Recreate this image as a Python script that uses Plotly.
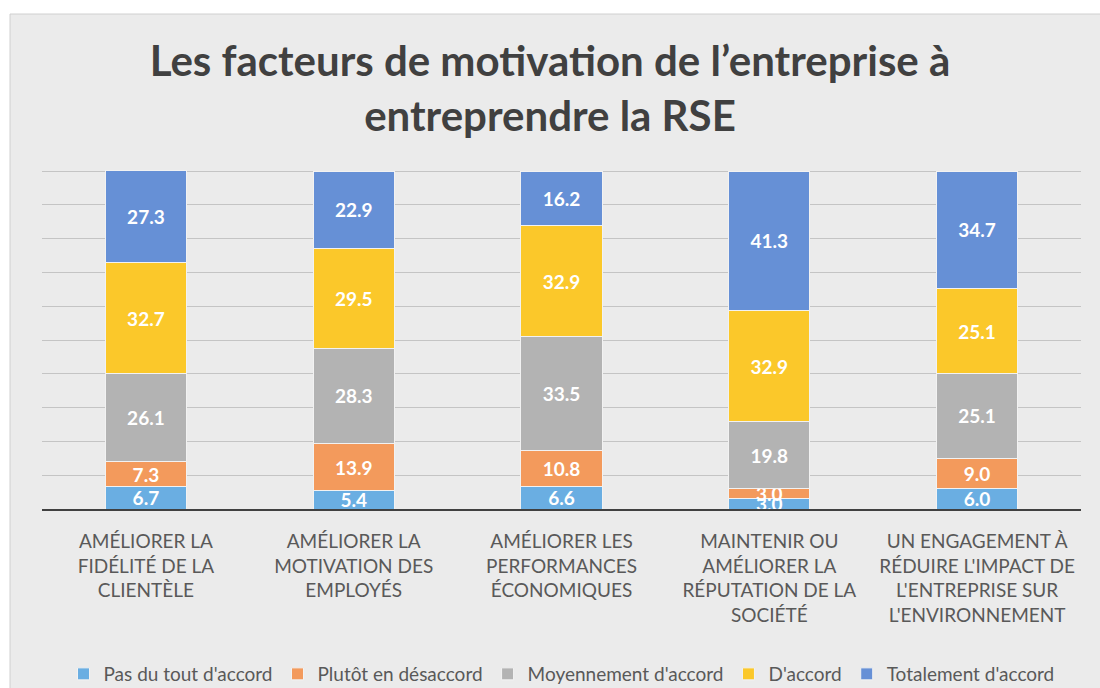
import plotly.graph_objects as go

categories = [
    "AMÉLIORER LA<br>FIDÉLITÉ DE LA<br>CLIENTÈLE",
    "AMÉLIORER LA<br>MOTIVATION DES<br>EMPLOYÉS",
    "AMÉLIORER LES<br>PERFORMANCES<br>ÉCONOMIQUES",
    "MAINTENIR OU<br>AMÉLIORER LA<br>RÉPUTATION DE LA<br>SOCIÉTÉ",
    "UN ENGAGEMENT À<br>RÉDUIRE L'IMPACT DE<br>L'ENTREPRISE SUR<br>L'ENVIRONNEMENT",
]
pas_du_tout = [6.7, 5.4, 6.6, 3.0, 6.0]
plutot_desaccord = [7.3, 13.9, 10.8, 3.0, 9.0]
moyennement = [26.1, 28.3, 33.5, 19.8, 25.1]
d_accord = [32.7, 29.5, 32.9, 32.9, 25.1]
totalement = [27.3, 22.9, 16.2, 41.3, 34.7]

series = [
    ("Pas du tout d'accord", pas_du_tout, "#6aaee2"),
    ("Plutôt en désaccord", plutot_desaccord, "#f39a5c"),
    ("Moyennement d'accord", moyennement, "#b3b3b3"),
    ("D'accord", d_accord, "#fbc82a"),
    ("Totalement d'accord", totalement, "#6690d6"),
]

W, H = 1100, 688
L, R, T, B = 42, 19, 170, 179
PW, PH = W - L - R, H - T - B

fig = go.Figure()
for name, vals, color in series:
    fig.add_trace(go.Bar(
        name=name, x=categories, y=vals,
        marker=dict(color=color, line=dict(color="#f2f2f2", width=1)),
        text=[f"{v:.1f}" for v in vals],
        textposition="inside", insidetextanchor="middle", textangle=0,
        textfont=dict(family="Lato", size=19, color="white", weight="bold"),
        width=0.39,
    ))

fig.update_layout(
    barmode="stack",
    width=W, height=H,
    paper_bgcolor="white",
    plot_bgcolor="rgba(0,0,0,0)",
    margin=dict(l=L, r=R, t=T, b=B, autoexpand=False),
    uniformtext=dict(mode="show", minsize=19),
    title=dict(
        text="<b>Les facteurs de motivation de l’entreprise à<br>entreprendre la RSE</b>",
        x=0.5, xanchor="center", y=1 - 76 / H, yanchor="top",
        font=dict(family="Lato", size=42, color="#404040"),
    ),
    legend=dict(
        orientation="h", x=0.5, xanchor="center", y=-(655 - (T + PH)) / PH, yanchor="top",
        font=dict(family="Lato", size=19, color="#595959"),
        itemwidth=30, traceorder="normal", bgcolor="rgba(0,0,0,0)",
    ),
    shapes=[dict(type="rect", xref="paper", yref="paper",
                 x0=(10 - L) / PW, x1=1 + (R + 5) / PW, y0=-(B + 5) / PH, y1=1 + (T - 14) / PH,
                 fillcolor="#ebebeb", line=dict(color="#d0d0d0", width=1), layer="below")],
)
fig.update_xaxes(
    showgrid=False, showline=True, linecolor="#404040", linewidth=2, automargin=False,
    tickfont=dict(family="Lato", size=19, color="#595959"), ticks="", ticklabelstandoff=14,
)
fig.update_yaxes(
    range=[0, 100.3], dtick=10, showticklabels=False, showgrid=True, automargin=False,
    gridcolor="#c4c4c4", gridwidth=1, zeroline=False,
)

fig.write_html("out.html", post_script="document.body.style.margin='0';",
               config={"displayModeBar": False})
